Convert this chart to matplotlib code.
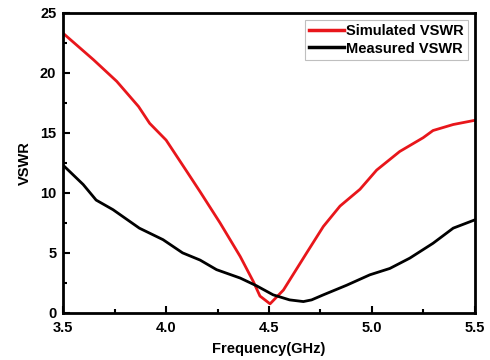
import matplotlib.pyplot as plt
from matplotlib.ticker import MultipleLocator

plt.rcParams['font.family'] = ['Liberation Sans', 'DejaVu Sans']
plt.rcParams['font.weight'] = 'bold'

# values
sim_freq = [3.5, 3.647, 3.76, 3.866, 3.92, 4.0, 4.1, 4.165, 4.262, 4.36,
            4.424, 4.456, 4.505, 4.57, 4.683, 4.764, 4.845, 4.942, 5.023,
            5.135, 5.249, 5.297, 5.395, 5.5]
sim_vswr = [23.3, 21.1, 19.3, 17.2, 15.8, 14.4, 11.8, 10.1, 7.5, 4.7,
            2.6, 1.4, 0.75, 1.9, 5.0, 7.2, 8.9, 10.3, 11.9,
            13.45, 14.6, 15.2, 15.7, 16.05]

meas_freq = [3.5, 3.597, 3.66, 3.742, 3.87, 3.985, 4.08, 4.165, 4.245,
             4.36, 4.44, 4.52, 4.6, 4.667, 4.707, 4.764, 4.877, 4.99,
             5.087, 5.184, 5.297, 5.395, 5.5]
meas_vswr = [12.3, 10.7, 9.4, 8.6, 7.06, 6.1, 5.0, 4.4, 3.6,
             2.9, 2.25, 1.5, 1.08, 0.94, 1.08, 1.5, 2.3, 3.17,
             3.7, 4.56, 5.8, 7.06, 7.75]

fig, ax = plt.subplots(figsize=(4.9, 3.6), dpi=100)
fig.subplots_adjust(left=0.129, right=0.969, top=0.964, bottom=0.131)

ax.plot(sim_freq, sim_vswr, color='#e8161b', lw=2, label='Simulated VSWR')
ax.plot(meas_freq, meas_vswr, color='black', lw=2, label='Measured VSWR')

ax.set_xlim(3.5, 5.5)
ax.set_ylim(0, 25)
ax.xaxis.set_major_locator(MultipleLocator(0.5))
ax.xaxis.set_minor_locator(MultipleLocator(0.25))
ax.yaxis.set_major_locator(MultipleLocator(5))
ax.yaxis.set_minor_locator(MultipleLocator(2.5))
ax.tick_params(which='both', direction='in', width=1.5, labelsize=10.5)
ax.tick_params(which='major', length=5)
ax.tick_params(which='minor', length=3)
ax.tick_params(axis='x', pad=6)
ax.tick_params(axis='y', pad=5)
for s in ax.spines.values():
    s.set_linewidth(2)

ax.set_xlabel('Frequency(GHz)', fontsize=10.5, fontweight='bold', labelpad=5)
ax.set_ylabel('VSWR', fontsize=10.5, fontweight='bold', labelpad=6)

leg = ax.legend(loc='upper right', fontsize=10.5, frameon=True, fancybox=False,
                handlelength=2.4, handletextpad=0.15, borderpad=0.3,
                labelspacing=0.25, borderaxespad=0.45)
leg.get_frame().set_edgecolor('#b0b0b0')
leg.get_frame().set_linewidth(0.8)
for h in leg.get_lines():
    h.set_linewidth(2.5)

fig.savefig('out.png')
